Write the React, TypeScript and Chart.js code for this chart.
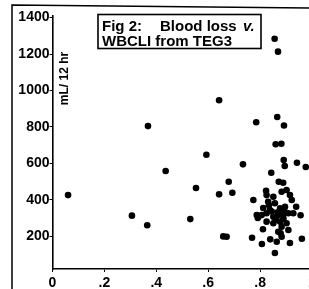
import React, { useEffect, useRef } from "react";
import { Chart, registerables } from "chart.js";

Chart.register(...registerables);

const wbcli: number[] = [0.06,0.368,0.436,0.306,0.365,0.642,0.785,0.866,0.892,0.86,0.882,0.593,0.734,0.891,0.895,0.942,0.976,0.843,0.679,0.553,0.872,0.889,0.856,0.869,0.693,0.642,0.531,0.658,0.671,0.774,0.823,0.769,0.807,0.857,0.961,0.956,0.915,0.839,0.811,0.825,0.851,0.883,0.902,0.915,0.922,0.834,0.857,0.877,0.896,0.787,0.806,0.825,0.851,0.87,0.889,0.909,0.928,0.825,0.851,0.877,0.902,0.883,0.909,0.87,0.864,0.883,0.879,0.939,0.831,0.812,0.838,0.791,0.845,0.868,0.893,0.86,0.89];
const bloodLoss: number[] = [425,804,557,312,259,946,825,854,807,704,707,647,594,618,585,603,579,548,498,464,498,493,1284,1213,438,429,293,198,196,398,449,191,156,107,185,314,162,182,237,425,416,443,453,425,398,370,380,352,361,315,315,325,306,315,315,325,325,279,270,279,270,251,233,224,169,196,215,361,388,354,343,299,335,330,340,290,295];

const xTicks: number[] = [0, 0.2, 0.4, 0.6, 0.8, 1];
const xTickLabels: string[] = ["0", ".2", ".4", ".6", ".8", "1"];
const yTicks: number[] = [200, 400, 600, 800, 1000, 1200, 1400];

const titleLine1a = "Fig 2:";
const titleLine1b = "Blood loss";
const titleLine1c = "v.";
const titleLine2 = "WBCLI from TEG3";
const yUnit = "mL/ 12 hr";

const FONT = "'Liberation Sans', Arial, Helvetica, sans-serif";

export default function App() {
  const ref = useRef<HTMLCanvasElement | null>(null);

  useEffect(() => {
    if (!ref.current) return;
    const annot = {
      id: "annot",
      afterDraw(chart: any) {
        const ctx = chart.ctx as CanvasRenderingContext2D;
        ctx.save();
        ctx.strokeStyle = "#000";
        ctx.fillStyle = "#000";
        // outer page frame
        ctx.lineWidth = 1.5;
        ctx.beginPath();
        ctx.moveTo(12, 289);
        ctx.lineTo(12, 5);
        ctx.lineTo(309, 8);
        ctx.stroke();
        // title box
        ctx.lineWidth = 1.6;
        ctx.strokeRect(98, 14.5, 163, 34);
        ctx.textBaseline = "alphabetic";
        ctx.textAlign = "left";
        ctx.font = `bold 15px ${FONT}`;
        ctx.fillText(titleLine1a, 102, 30.5);
        ctx.fillText(titleLine1b, 160, 30.5);
        ctx.font = `italic bold 15px ${FONT}`;
        ctx.fillText(titleLine1c, 243, 30.5);
        ctx.font = `bold 15px ${FONT}`;
        ctx.fillText(titleLine2, 102, 46);
        // unit label rotated
        ctx.translate(68, 78.5);
        ctx.rotate(-Math.PI / 2);
        ctx.font = `bold 12px ${FONT}`;
        ctx.textAlign = "center";
        ctx.fillText(yUnit, 0, 0);
        ctx.restore();
      },
    };

    const chart = new Chart(ref.current, {
      type: "scatter",
      data: {
        datasets: [
          {
            data: wbcli.map((x, i) => ({ x, y: bloodLoss[i] })),
            backgroundColor: "#000",
            borderColor: "#000",
            pointRadius: 3.3,
            pointHoverRadius: 3.3,
            borderWidth: 0,
          },
        ],
      },
      options: {
        responsive: false,
        animation: false,
        events: [],
        layout: { padding: { left: 0, right: 18, top: 15.8, bottom: 0 } },
        plugins: { legend: { display: false }, tooltip: { enabled: false } },
        scales: {
          x: {
            type: "linear",
            min: 0,
            max: 1,
            afterFit(scale: any) {
              scale.height = 20;
            },
            afterBuildTicks(scale: any) {
              scale.ticks = xTicks.map((v) => ({ value: v }));
            },
            grid: {
              display: true,
              drawOnChartArea: false,
              drawTicks: true,
              tickLength: 3,
              color: "#000",
              lineWidth: 1,
            },
            border: { display: true, color: "#000", width: 1.6 },
            ticks: {
              color: "#000",
              padding: 3,
              maxRotation: 0,
              autoSkip: false,
              font: { family: FONT, size: 14, weight: "bold" },
              callback: (v: any) => {
                const i = xTicks.findIndex((t) => Math.abs(t - Number(v)) < 1e-6);
                return i >= 0 ? xTickLabels[i] : "";
              },
            },
          },
          y: {
            type: "linear",
            min: 19,
            max: 1410,
            afterFit(scale: any) {
              scale.width = 52.5;
            },
            afterBuildTicks(scale: any) {
              scale.ticks = yTicks.map((v) => ({ value: v }));
            },
            grid: {
              display: true,
              drawOnChartArea: false,
              drawTicks: true,
              tickLength: 3,
              color: "#000",
              lineWidth: 1,
            },
            border: { display: true, color: "#000", width: 1.6 },
            ticks: {
              color: "#000",
              padding: 0,
              autoSkip: false,
              font: { family: FONT, size: 14, weight: "bold" },
              callback: (v: any) => String(v),
            },
          },
        },
      },
      plugins: [annot],
    } as any);
    return () => chart.destroy();
  }, []);

  return (
    <div
      style={{
        position: "fixed",
        left: 0,
        top: 0,
        width: 309,
        height: 289,
        overflow: "hidden",
        background: "#fff",
      }}
    >
      <canvas ref={ref} width={330} height={289} style={{ display: "block" }} />
    </div>
  );
}
